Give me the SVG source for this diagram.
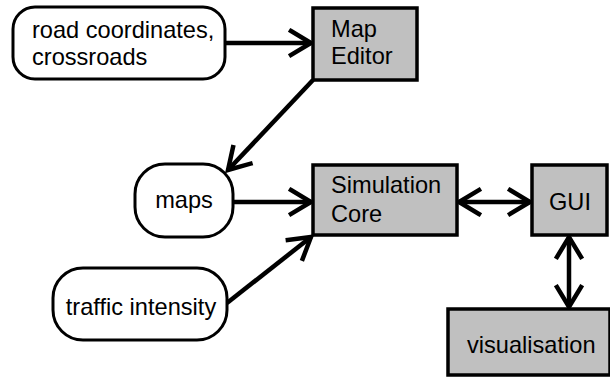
<svg xmlns="http://www.w3.org/2000/svg" width="610" height="378" viewBox="0 0 610 378">
  <style>
    .data { fill: #ffffff; stroke: #000000; stroke-width: 3; }
    .proc { fill: #c0c0c0; stroke: #000000; stroke-width: 3.5; }
    .lbl { font-family: "Liberation Sans", Arial, sans-serif; font-size: 23.6px; fill: #000000; }
    .edge { fill: none; stroke: #000000; stroke-width: 4.5; }
  </style>
  <defs>
    <marker id="head" markerUnits="userSpaceOnUse" markerWidth="30" markerHeight="30" refX="0" refY="0" viewBox="-24 -15 28 30" orient="auto-start-reverse" overflow="visible">
      <path d="M-20,-12 L0,0 L-20,12" fill="none" stroke="#000000" stroke-width="4.5" stroke-linecap="square"/>
    </marker>
  </defs>

  <rect width="610" height="378" fill="#ffffff"/>

  <g id="connectors">
    <line class="edge" x1="225" y1="43" x2="311" y2="43" marker-end="url(#head)"/>
    <line class="edge" x1="313" y1="80" x2="228" y2="170" marker-end="url(#head)"/>
    <line class="edge" x1="233" y1="202" x2="311" y2="202" marker-end="url(#head)"/>
    <line class="edge" x1="227" y1="303" x2="311" y2="237" marker-end="url(#head)"/>
    <line class="edge" x1="459" y1="202" x2="530" y2="202" marker-start="url(#head)" marker-end="url(#head)"/>
    <line class="edge" x1="569" y1="237" x2="569" y2="307" marker-start="url(#head)" marker-end="url(#head)"/>
  </g>

  <g id="road-data">
    <rect class="data" x="13" y="7" width="212" height="72" rx="22" ry="22"/>
    <text class="lbl" x="32" y="38">road coordinates,</text>
    <text class="lbl" x="32" y="65">crossroads</text>
  </g>

  <g id="map-editor">
    <rect class="proc" x="313" y="8" width="104" height="72"/>
    <text class="lbl" x="331" y="37">Map</text>
    <text class="lbl" x="331" y="64">Editor</text>
  </g>

  <g id="maps">
    <rect class="data" x="135" y="164" width="98" height="73" rx="30" ry="30"/>
    <text class="lbl" x="184" y="208" text-anchor="middle">maps</text>
  </g>

  <g id="traffic">
    <rect class="data" x="53" y="268" width="174" height="72" rx="30" ry="30"/>
    <text class="lbl" x="141" y="315" text-anchor="middle">traffic intensity</text>
  </g>

  <g id="simulation-core">
    <rect class="proc" x="313" y="165" width="144" height="70"/>
    <text class="lbl" x="331" y="193">Simulation</text>
    <text class="lbl" x="331" y="222">Core</text>
  </g>

  <g id="gui">
    <rect class="proc" x="532" y="165" width="75" height="70"/>
    <text class="lbl" x="570" y="210" text-anchor="middle">GUI</text>
  </g>

  <g id="visualisation">
    <rect class="proc" x="448" y="309" width="162" height="66"/>
    <text class="lbl" x="467" y="353">visualisation</text>
  </g>
</svg>
